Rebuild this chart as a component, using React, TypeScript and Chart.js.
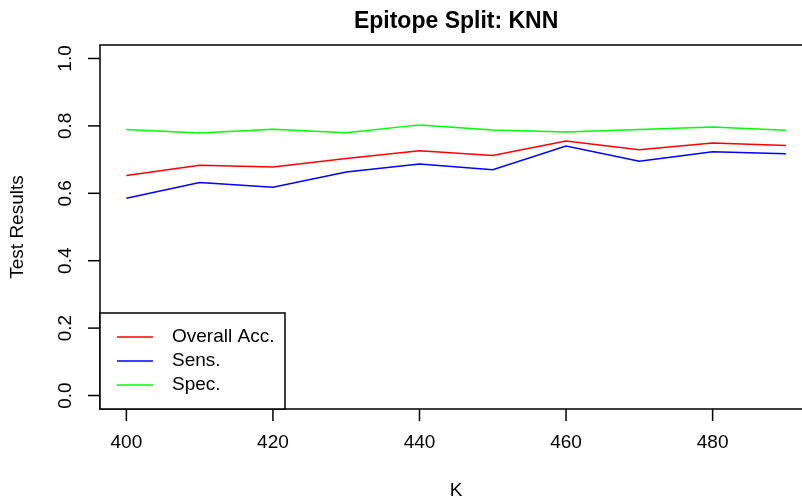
import React, { useEffect, useRef } from "react";
import { Chart, registerables } from "chart.js";

Chart.register(...registerables);

// K values evaluated
const kValues = [400, 410, 420, 430, 440, 450, 460, 470, 480, 490];

// Test results per K
const overallAcc = [0.653, 0.683, 0.678, 0.703, 0.726, 0.712, 0.755, 0.729, 0.749, 0.742];
const sens = [0.585, 0.632, 0.618, 0.663, 0.687, 0.670, 0.740, 0.695, 0.723, 0.717];
const spec = [0.789, 0.779, 0.790, 0.780, 0.803, 0.788, 0.782, 0.789, 0.797, 0.787];

// Axis ticks
const xTicks = [400, 420, 440, 460, 480];
const yTicks = [0.0, 0.2, 0.4, 0.6, 0.8, 1.0];
const yTickLabels = ["0.0", "0.2", "0.4", "0.6", "0.8", "1.0"];

const seriesNames = ["Overall Acc.", "Sens.", "Spec."];
const seriesColors = ["#ff0000", "#0000ff", "#00ff00"];

const titleText = "Epitope Split: KNN";
const xTitle = "K";
const yTitle = "Test Results";

const FONT = "'Liberation Sans', Arial, Helvetica, sans-serif";

// Draws the R-style frame, axes, titles and legend around the plot area
const basePlotDecor = {
  id: "basePlotDecor",
  afterDraw(chart: any) {
    const { ctx, chartArea, scales } = chart;
    const { left, top, bottom } = chartArea;
    const right = chart.width;
    const xs = scales.x;
    const ys = scales.y;
    ctx.save();
    ctx.strokeStyle = "#000";
    ctx.fillStyle = "#000";
    ctx.lineWidth = 1.5;

    // frame
    ctx.beginPath();
    ctx.moveTo(right, top);
    ctx.lineTo(left, top);
    ctx.lineTo(left, bottom);
    ctx.lineTo(right, bottom);
    ctx.stroke();

    // x axis ticks and labels
    ctx.font = `19px ${FONT}`;
    ctx.textAlign = "center";
    ctx.textBaseline = "middle";
    xTicks.forEach((v) => {
      const px = xs.getPixelForValue(v);
      ctx.beginPath();
      ctx.moveTo(px, bottom);
      ctx.lineTo(px, bottom + 12);
      ctx.stroke();
      ctx.fillText(String(v), px, bottom + 34);
    });

    // y axis ticks and rotated labels
    yTicks.forEach((v, i) => {
      const py = ys.getPixelForValue(v);
      ctx.beginPath();
      ctx.moveTo(left, py);
      ctx.lineTo(left - 12, py);
      ctx.stroke();
      ctx.save();
      ctx.translate(left - 34, py);
      ctx.rotate(-Math.PI / 2);
      ctx.fillText(yTickLabels[i], 0, 0);
      ctx.restore();
    });

    // centre of the full plot region (data range padded by 4% each side)
    const kMin = kValues[0];
    const kMax = kValues[kValues.length - 1];
    const plotMidX = xs.getPixelForValue((kMin + kMax) / 2);

    // axis titles
    ctx.fillText(xTitle, plotMidX, bottom + 82);
    ctx.save();
    ctx.translate(18, (top + bottom) / 2);
    ctx.rotate(-Math.PI / 2);
    ctx.fillText(yTitle, 0, 0);
    ctx.restore();

    // main title
    ctx.font = `bold 23px ${FONT}`;
    ctx.fillText(titleText, plotMidX, 22);

    // legend box in bottom-left corner
    const boxW = 185;
    const boxH = 96;
    ctx.fillStyle = "#fff";
    ctx.fillRect(left, bottom - boxH, boxW, boxH);
    ctx.strokeStyle = "#000";
    ctx.strokeRect(left, bottom - boxH, boxW, boxH);
    ctx.font = `19px ${FONT}`;
    ctx.textAlign = "left";
    seriesNames.forEach((name, i) => {
      const y = bottom - boxH + 24 + i * 24;
      ctx.strokeStyle = seriesColors[i];
      ctx.beginPath();
      ctx.moveTo(left + 17, y);
      ctx.lineTo(left + 53, y);
      ctx.stroke();
      ctx.fillStyle = "#000";
      ctx.fillText(name, left + 72, y);
    });
    ctx.restore();
  },
};

export default function App() {
  const canvasRef = useRef<HTMLCanvasElement | null>(null);

  useEffect(() => {
    document.body.style.margin = "0";
    const canvas = canvasRef.current;
    if (!canvas) return;
    const seriesData = [overallAcc, sens, spec];
    const chart = new Chart(canvas, {
      type: "line",
      data: {
        datasets: seriesData.map((vals, i) => ({
          label: seriesNames[i],
          data: kValues.map((k, j) => ({ x: k, y: vals[j] })),
          borderColor: seriesColors[i],
          borderWidth: 1.5,
          pointRadius: 0,
          tension: 0,
          fill: false,
        })),
      },
      options: {
        responsive: false,
        animation: false,
        devicePixelRatio: 1,
        layout: { padding: { left: 100, top: 45, right: 0, bottom: 92 } },
        plugins: {
          legend: { display: false },
          title: { display: false },
          tooltip: { enabled: false },
        },
        scales: {
          x: { type: "linear", min: 396.4, max: 492.2, display: false },
          y: { type: "linear", min: -0.04, max: 1.04, display: false },
        },
      },
      plugins: [basePlotDecor],
    });
    return () => chart.destroy();
  }, []);

  return (
    <div style={{ width: 802, height: 501, background: "#fff" }}>
      <canvas ref={canvasRef} width={802} height={501} style={{ display: "block" }} />
    </div>
  );
}
